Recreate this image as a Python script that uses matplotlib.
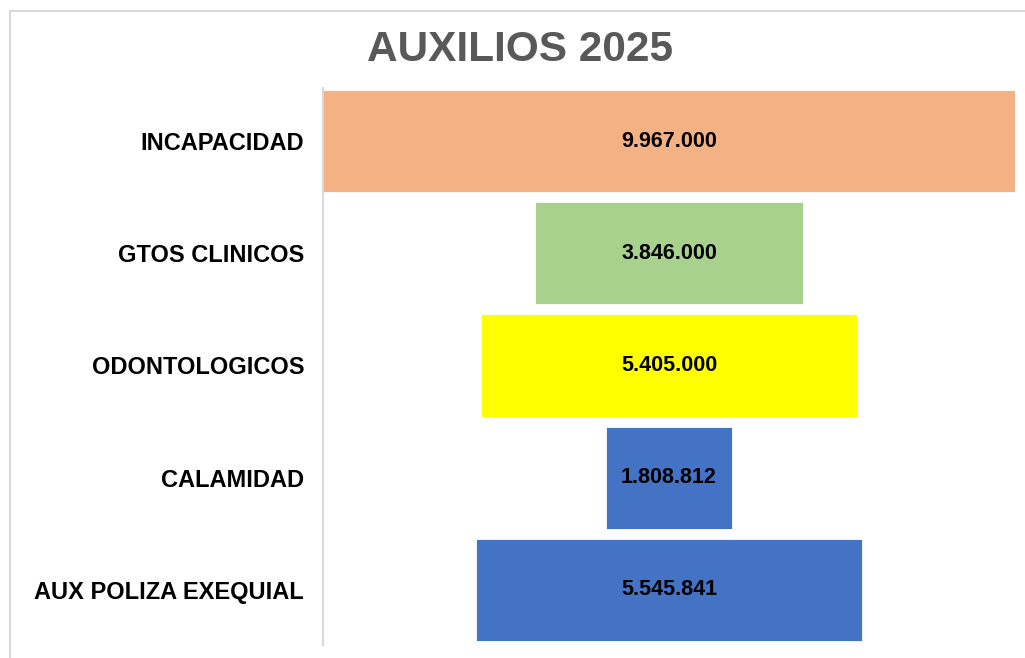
import matplotlib.pyplot as plt
from matplotlib.patches import Rectangle

categorias = ["INCAPACIDAD", "GTOS CLINICOS", "ODONTOLOGICOS", "CALAMIDAD", "AUX POLIZA EXEQUIAL"]
valores = [9967000, 3846000, 5405000, 1808812, 5545841]
colores = ["#F4B183", "#A9D18E", "#FFFF00", "#4472C4", "#4472C4"]


def formato_miles(v: int) -> str:
    return f"{v:,}".replace(",", ".")


W, H = 1025, 658
fig = plt.figure(figsize=(W / 100, H / 100), dpi=100)

# marco gris del grafico (se sale por la derecha y por abajo)
fig.patches.append(Rectangle((10 / W, -0.02), 1.05, 1 - 11 / H + 0.02,
                             transform=fig.transFigure, fill=False,
                             edgecolor="#D9D9D9", linewidth=1.5))

ax = fig.add_axes([323 / W, 1 - 645 / H, (1015 - 323) / W, (645 - 88) / H])

vmax = max(valores)
pos = list(range(len(categorias)))
ax.barh(pos, valores, left=[-v / 2 for v in valores], height=0.91,
        color=colores, edgecolor="#FFFFFF", linewidth=0.6)

for p, v in zip(pos, valores):
    ax.text(0, p, formato_miles(v), ha="center", va="center",
            fontsize=15.5, fontweight="bold", color="black", family="Liberation Sans")

ax.set_xlim(-vmax / 2, vmax / 2)
ax.set_ylim(4.491, -0.473)
ax.set_yticks(pos)
ax.set_yticklabels(categorias, fontsize=17, fontweight="bold", family="Liberation Sans")
ax.tick_params(axis="y", length=0, pad=13.5)
ax.set_xticks([])
for s in ["top", "right", "bottom"]:
    ax.spines[s].set_visible(False)
ax.spines["left"].set_color("#D9D9D9")
ax.spines["left"].set_linewidth(1.5)

fig.text(520 / W, 1 - 50 / H, "AUXILIOS 2025", ha="center", va="center",
         fontsize=30.5, fontweight="bold", color="#595959", family="Liberation Sans")

fig.savefig("out.png", dpi=100)
